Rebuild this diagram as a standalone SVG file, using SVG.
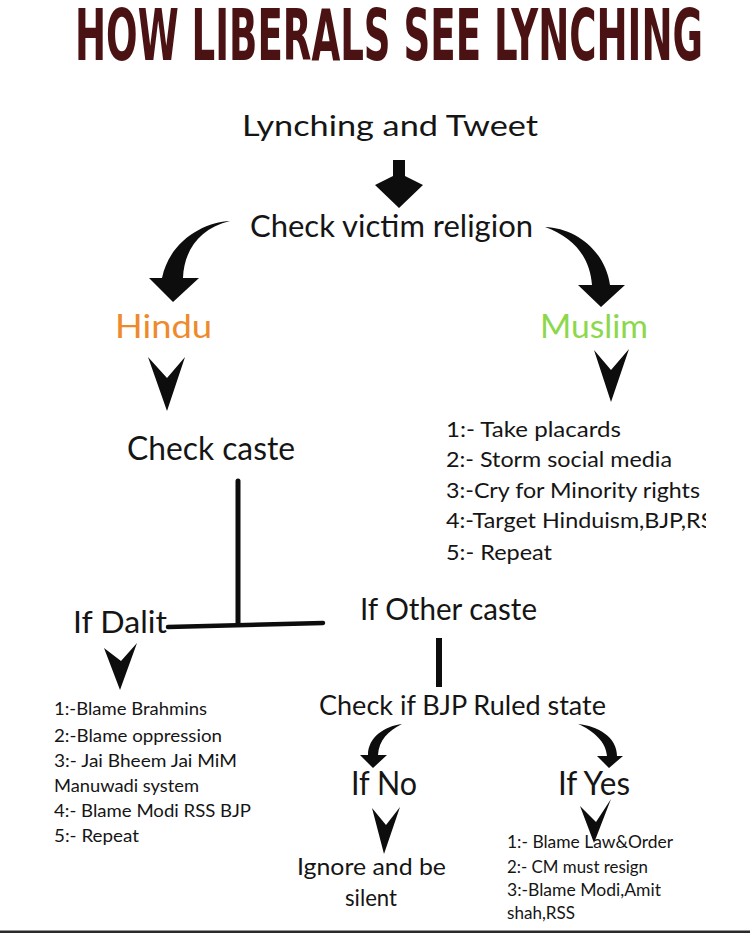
<svg xmlns="http://www.w3.org/2000/svg" width="750" height="933" viewBox="0 0 750 933">
<defs>
<style>
.t{font-family:Lato,"Noto Sans","DejaVu Sans",sans-serif;fill:#151515;}
.title{font-family:"Liberation Sans Narrow","DejaVu Sans Condensed","DejaVu Sans",sans-serif;font-weight:bold;font-stretch:condensed;fill:#4a1212;font-size:41px;}
.big{font-size:33px;}
.mid{font-size:28px;}
.ml{font-size:22px;}
.dl{font-size:17px;}
.yl{font-size:16.5px;}
.arr{fill:#0d0d0d;stroke:none;}
.ln{stroke:#0d0d0d;fill:none;stroke-linecap:round;}
</style>
<clipPath id="clipR"><rect x="0" y="0" width="706" height="933"/></clipPath>
</defs>
<rect x="0" y="0" width="750" height="933" fill="#ffffff"/>

<g id="title" transform="translate(75,59.5) scale(1,1.72)"><text class="title" x="0" y="0" textLength="628" lengthAdjust="spacingAndGlyphs">HOW LIBERALS SEE LYNCHING</text></g>

<g id="start"><text class="t mid" x="242" y="136" textLength="296" lengthAdjust="spacingAndGlyphs">Lynching and Tweet</text></g>
<g id="check-religion"><text class="t" font-size="30" x="250" y="237" textLength="283" lengthAdjust="spacingAndGlyphs">Check victim religion</text></g>
<g id="hindu"><text class="t big" x="115" y="338" style="fill:#ee8a2c" textLength="97" lengthAdjust="spacingAndGlyphs">Hindu</text></g>
<g id="muslim"><text class="t big" x="540" y="338" style="fill:#8cd84c" textLength="108" lengthAdjust="spacingAndGlyphs">Muslim</text></g>
<g id="check-caste"><text class="t big" x="127" y="460" textLength="168" lengthAdjust="spacingAndGlyphs">Check caste</text></g>

<g id="muslim-list" clip-path="url(#clipR)">
<text class="t ml" x="446" y="437" textLength="175" lengthAdjust="spacingAndGlyphs">1:- Take placards</text>
<text class="t ml" x="446" y="467" textLength="226" lengthAdjust="spacingAndGlyphs">2:- Storm social media</text>
<text class="t ml" x="446" y="498" textLength="254" lengthAdjust="spacingAndGlyphs">3:-Cry for Minority rights</text>
<text class="t ml" x="446" y="528" textLength="280" lengthAdjust="spacingAndGlyphs">4:-Target Hinduism,BJP,RSS</text>
<text class="t ml" x="446" y="560" textLength="106" lengthAdjust="spacingAndGlyphs">5:- Repeat</text>
</g>

<g id="if-dalit"><text class="t" font-size="31" x="73" y="633" textLength="94" lengthAdjust="spacingAndGlyphs">If Dalit</text></g>
<g id="if-other"><text class="t" font-size="31" x="360" y="620" textLength="177" lengthAdjust="spacingAndGlyphs">If Other caste</text></g>

<g id="dalit-list">
<text class="t dl" x="54" y="715" textLength="153" lengthAdjust="spacingAndGlyphs">1:-Blame Brahmins</text>
<text class="t dl" x="54" y="742" textLength="168" lengthAdjust="spacingAndGlyphs">2:-Blame oppression</text>
<text class="t dl" x="54" y="767" textLength="183" lengthAdjust="spacingAndGlyphs">3:- Jai Bheem Jai MiM</text>
<text class="t dl" x="54" y="792" textLength="145" lengthAdjust="spacingAndGlyphs">Manuwadi system</text>
<text class="t dl" x="54" y="817" textLength="197" lengthAdjust="spacingAndGlyphs">4:- Blame Modi RSS BJP</text>
<text class="t dl" x="54" y="842" textLength="85" lengthAdjust="spacingAndGlyphs">5:- Repeat</text>
</g>

<g id="check-bjp"><text class="t" font-size="27" x="319" y="715" textLength="287" lengthAdjust="spacingAndGlyphs">Check if BJP Ruled state</text></g>
<g id="if-no"><text class="t big" x="351" y="795" textLength="66" lengthAdjust="spacingAndGlyphs">If No</text></g>
<g id="if-yes"><text class="t big" x="558" y="795" textLength="72" lengthAdjust="spacingAndGlyphs">If Yes</text></g>
<g id="ignore">
<text class="t" font-size="24" x="297" y="875" textLength="149" lengthAdjust="spacingAndGlyphs">Ignore and be</text>
<text class="t" font-size="24" x="345" y="906" textLength="52" lengthAdjust="spacingAndGlyphs">silent</text>
</g>
<g id="yes-list">
<text class="t yl" x="507" y="848" textLength="166" lengthAdjust="spacingAndGlyphs">1:- Blame Law&amp;Order</text>
<text class="t yl" x="507" y="873" textLength="141" lengthAdjust="spacingAndGlyphs">2:- CM must resign</text>
<text class="t yl" x="507" y="896" textLength="154" lengthAdjust="spacingAndGlyphs">3:-Blame Modi,Amit</text>
<text class="t yl" x="507" y="919" textLength="68" lengthAdjust="spacingAndGlyphs">shah,RSS</text>
</g>

<g id="connectors">
<path class="arr" d="M393,160 H405 V176 L423,185 L399,208 L375,185 L393,176 Z"/>
<path class="arr" d="M230,221 C205,222 170,240 162,278 L149,278 L173,302 L199,278 L183,278 C184,250 200,228 230,221 Z"/>
<path class="arr" d="M545,227 C575,228 605,250 610,285 L625,285 L601,307 L578,285 L592,285 C590,258 575,238 545,227 Z"/>
<path class="arr" d="M148,357 L167,378 L185,357 L167,411 Z"/>
<path class="arr" d="M594,350 L611,370 L629,349 L611,402 Z"/>
<path class="ln" d="M238,481 V624" stroke-width="5"/>
<path class="ln" d="M168,627 L323,623" stroke-width="4.5"/>
<path class="arr" d="M104,648 L121,661 L137,643 L120,690 Z"/>
<path class="ln" d="M439,638 V687" stroke-width="6" style="stroke-linecap:butt"/>
<path class="arr" d="M402,724 C385,726 368,737 368,755 L360,755 L373,768 L387,755 L378,755 C379,740 388,731 402,724 Z"/>
<path class="arr" d="M578,724 C598,726 617,737 617,756 L623,756 L609,768 L597,756 L607,756 C606,742 594,731 578,724 Z"/>
<path class="arr" d="M372,808 L386,825 L400,807 L384,854 Z"/>
<path class="arr" d="M580,806 L596,822 L611,799 L594,843 Z"/>
</g>
<rect x="0" y="930.5" width="750" height="2.5" fill="#2a2a2a"/>
</svg>
